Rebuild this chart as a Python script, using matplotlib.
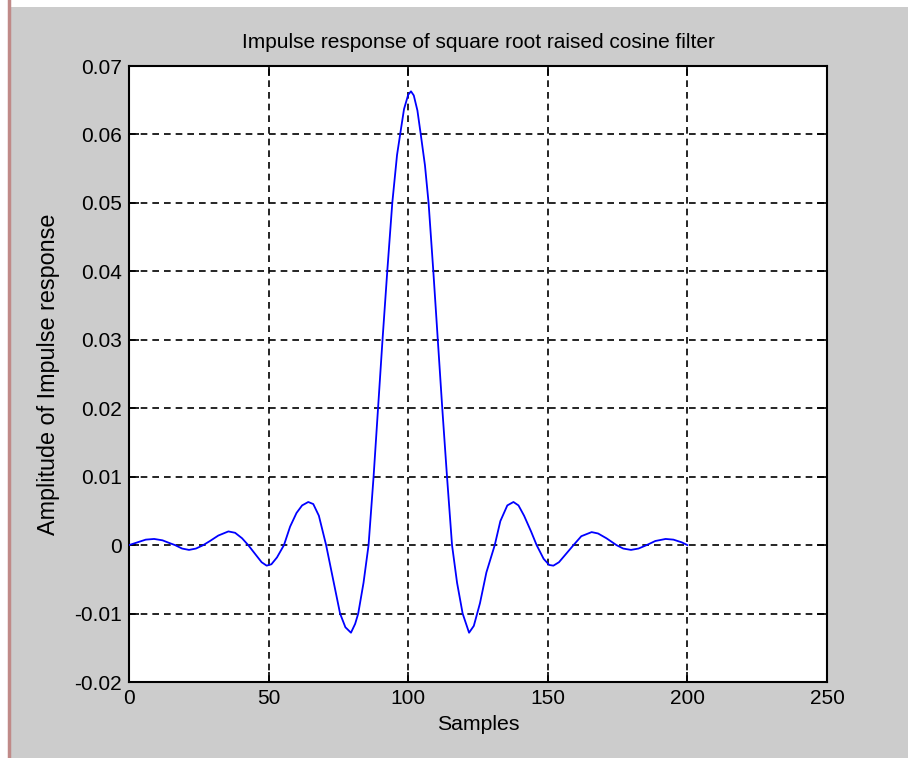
import matplotlib
matplotlib.use("Agg")
import matplotlib.pyplot as plt
from matplotlib.patches import Rectangle
from matplotlib.lines import Line2D

plt.rcParams['font.family'] = ['Liberation Sans', 'DejaVu Sans']

# Data
samples = [0, 3, 6, 9, 12, 14.5, 16.5, 19, 21.5, 24, 26.6, 29, 32, 35.6, 38, 40.5, 42.7,
           45, 47.5, 49.3, 51, 53, 55.5, 57.7, 60, 62, 64.2, 66, 68, 70.6, 73, 75.6,
           77.5, 79.5, 81, 82.1, 84, 85.8,
           87.6, 89.2, 90.8, 92.5, 94.3, 96, 97.3, 98.5, 100, 101, 102, 103.3, 104.5,
           106, 107.3, 109.0, 110.6, 112.2, 113.9, 115.7,
           117.5, 119.5, 121.8, 123.5, 125.7, 128, 131, 133, 135.5, 137.7, 139.5, 141.5,
           144, 146, 148.5, 150.5, 152, 154, 156.5, 159.2, 162, 165.7, 168, 171, 174.6,
           177, 179.8, 182.5, 185.4, 188.5, 192.2, 195, 198, 200]
amplitude = [0.0000, 0.0004, 0.0008, 0.0009, 0.0007, 0.0003, 0.0000, -0.0005, -0.0007,
             -0.0005, 0.0000, 0.0006, 0.0014, 0.0020, 0.0018, 0.0010, 0.0000,
             -0.0012, -0.0025, -0.0030, -0.0028, -0.0018, 0.0000, 0.0027, 0.0047, 0.0058,
             0.0063, 0.0060, 0.0043, 0.0000, -0.0048, -0.0100,
             -0.0120, -0.0128, -0.0115, -0.0100, -0.0055, 0.0000,
             0.0100, 0.0200, 0.0300, 0.0400, 0.0500, 0.0570, 0.0605, 0.0637, 0.0658,
             0.0663, 0.0657, 0.0635, 0.0600,
             0.0555, 0.0500, 0.0400, 0.0300, 0.0200, 0.0100, 0.0000,
             -0.0055, -0.0100, -0.0128, -0.0118, -0.0085, -0.0040, 0.0000, 0.0035,
             0.0058, 0.0063, 0.0058, 0.0043,
             0.0020, 0.0000, -0.0020, -0.0029, -0.0030, -0.0025, -0.0013, 0.0000, 0.0013,
             0.0019, 0.0017, 0.0010, 0.0000,
             -0.0005, -0.0007, -0.0005, 0.0000, 0.0006, 0.0009, 0.0008, 0.0004, 0.0000]

xticks = [0, 50, 100, 150, 200, 250]
yticks = [-0.02, -0.01, 0, 0.01, 0.02, 0.03, 0.04, 0.05, 0.06, 0.07]
ytick_labels = ['-0.02', '-0.01', '0', '0.01', '0.02', '0.03', '0.04', '0.05', '0.06', '0.07']

W, H = 908, 758
fig = plt.figure(figsize=(W / 100, H / 100), dpi=100, facecolor='white')
fig.add_artist(Rectangle((10 / W, 0), 1 - 10 / W, 1 - 7 / H, transform=fig.transFigure,
                         facecolor='#cccccc', edgecolor='none', zorder=-10))
fig.add_artist(Line2D([9 / W, 9 / W], [0, 1], transform=fig.transFigure,
                      color='#c08a88', linewidth=2.5, zorder=-9))

ax = fig.add_axes([129 / W, (H - 682) / H, 698 / W, 616 / H])
ax.set_facecolor('white')
ax.plot(samples, amplitude, color='#0000ff', linewidth=1.3, zorder=3)

ax.set_xlim(0, 250)
ax.set_ylim(-0.02, 0.07)
ax.set_xticks(xticks)
ax.set_xticklabels([str(t) for t in xticks])
ax.set_yticks(yticks)
ax.set_yticklabels(ytick_labels)

ax.grid(True, color='black', linestyle=(0, (4, 3)), linewidth=1.2)
ax.set_axisbelow(True)
for s in ax.spines.values():
    s.set_linewidth(1.5)
    s.set_color('black')
ax.tick_params(direction='in', length=7, width=1.2, top=True, right=True,
               labelsize=15, colors='black', pad=5)

ax.set_title('Impulse response of square root raised cosine filter', fontsize=15, pad=13)
ax.set_xlabel('Samples', fontsize=15.3, labelpad=5)
ax.set_ylabel('Amplitude of Impulse response', fontsize=16.8, labelpad=10)

fig.savefig('out.png', dpi=100, facecolor=fig.get_facecolor())
